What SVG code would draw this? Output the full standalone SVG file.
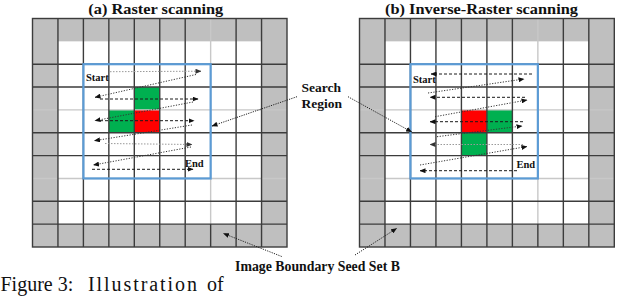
<svg xmlns="http://www.w3.org/2000/svg" width="640" height="297" viewBox="0 0 640 297">
<style>
.bg{fill:#ffffff}
.gray{fill:#bfbfbf}
.white{fill:#ffffff}
.green{fill:#00b050}
.red{fill:#ff0000}
.dk{stroke:#3c3c3c;stroke-width:1.4;fill:none}
.lt{stroke:#c8c8c8;stroke-width:1.4;fill:none}
.blue{stroke:#5b9bd5;stroke-width:2.2;fill:none}
.dash{stroke:#1a1a1a;stroke-width:1;stroke-dasharray:3 2;fill:none}
.dot{stroke:#333;stroke-width:1;stroke-dasharray:1.2 1.5;fill:none}
.faint{stroke:#9a9a9a;stroke-width:1;stroke-dasharray:1.5 1.5;fill:none}
.lead{stroke:#222;stroke-width:1;stroke-dasharray:1.2 1.2;fill:none}
.t{font-family:"Liberation Serif","Times New Roman",serif;font-weight:bold;fill:#111}
.cap{font-family:"Liberation Serif","Times New Roman",serif;fill:#111}
</style>
<defs>
<marker id="ah" viewBox="0 0 6 5" refX="5.5" refY="2.5" markerWidth="6" markerHeight="5" markerUnits="userSpaceOnUse" orient="auto">
<path d="M0,0 L6,2.5 L0,5 z" fill="#111"/>
</marker>
<marker id="ahg" viewBox="0 0 6 5" refX="5.5" refY="2.5" markerWidth="6" markerHeight="5" markerUnits="userSpaceOnUse" orient="auto">
<path d="M0,0 L6,2.5 L0,5 z" fill="#333"/>
</marker>
</defs>
<rect class="bg" x="0" y="0" width="640" height="297"/>

<g id="panel-a">
<rect class="gray" x="32.5" y="18.5" width="254.5" height="228.5"/>
<rect class="white" x="57.95" y="41.35" width="203.6" height="182.8"/>
<rect class="green" x="134.3" y="87.05" width="25.45" height="22.85"/>
<rect class="green" x="108.85" y="109.9" width="25.45" height="22.85"/>
<rect class="red" x="134.3" y="109.9" width="25.45" height="22.85"/>
<path class="lt" d="M32.5,109.9H287M32.5,178.45H287M210.65,18.5V224.15"/>
<path class="dk" d="M57.95,18.5V247M83.4,18.5V247M108.85,18.5V247M134.3,18.5V247M159.75,18.5V247M185.2,18.5V247M236.1,18.5V247M261.55,18.5V247M210.65,224.15V247M32.5,64.2H287M32.5,87.05H287M32.5,132.75H287M32.5,155.6H287M32.5,201.3H287M32.5,224.15H287"/>
<rect class="dk" x="32.5" y="18.5" width="254.5" height="228.5"/>
<rect class="blue" x="83.4" y="64.2" width="127.25" height="114.25"/>
<text class="t" x="86" y="81" font-size="10.5">Start</text>
<text class="t" x="185" y="166.7" font-size="10.5">End</text>
</g>

<g id="panel-b">
<rect class="gray" x="359.5" y="18.5" width="254.8" height="228.5"/>
<rect class="white" x="384.98" y="41.35" width="203.84" height="182.8"/>
<rect class="red" x="461.42" y="109.9" width="25.48" height="22.85"/>
<rect class="green" x="486.9" y="109.9" width="25.48" height="22.85"/>
<rect class="green" x="461.42" y="132.75" width="25.48" height="22.85"/>
<path class="lt" d="M359.5,109.9H614.3M359.5,178.45H614.3M537.86,18.5V224.15"/>
<path class="dk" d="M384.98,18.5V247M410.46,18.5V247M435.94,18.5V247M461.42,18.5V247M486.9,18.5V247M512.38,18.5V247M563.34,18.5V247M588.82,18.5V247M537.86,224.15V247M359.5,64.2H614.3M359.5,87.05H614.3M359.5,132.75H614.3M359.5,155.6H614.3M359.5,201.3H614.3M359.5,224.15H614.3"/>
<rect class="dk" x="359.5" y="18.5" width="254.8" height="228.5"/>
<rect class="blue" x="410.46" y="64.2" width="127.4" height="114.25"/>
<text class="t" x="413" y="83" font-size="10.5">Start</text>
<text class="t" x="516.5" y="168" font-size="10.5">End</text>
</g>

<g id="labels">
<text class="t" x="88.3" y="13.5" font-size="15.5" textLength="135" lengthAdjust="spacingAndGlyphs">(a) Raster scanning</text>
<text class="t" x="385" y="13.5" font-size="15.5" textLength="193" lengthAdjust="spacingAndGlyphs">(b) Inverse-Raster scanning</text>
<text class="t" x="301.5" y="91.7" font-size="13.5">Search</text>
<text class="t" x="301.5" y="108.3" font-size="13.5">Region</text>
<text class="t" x="317.5" y="270.5" font-size="13.8" text-anchor="middle">Image Boundary Seed Set B</text>
<text class="cap" x="0.5" y="291" font-size="20">Figure 3:<tspan x="88" textLength="109" lengthAdjust="spacing">Illustration</tspan><tspan x="207">of</tspan></text>
</g>

<g id="connectors">
<path class="faint" d="M110,71.7 L201,71.2" marker-end="url(#ahg)"/>
<path class="dot" d="M196,74.5 L95,97.3" marker-end="url(#ah)"/>
<path class="dash" d="M100,99 L198,99" marker-end="url(#ah)"/>
<path class="dot" d="M193,102 L95,120.7" marker-end="url(#ah)"/>
<path class="dash" d="M100,120.7 L194,120.7" marker-end="url(#ah)"/>
<path class="dot" d="M192,125 L94.5,140.7" marker-end="url(#ah)"/>
<path class="faint" d="M105,143.5 L192,144.5" marker-end="url(#ahg)"/>
<path class="dot" d="M191,147 L93.5,165" marker-end="url(#ah)"/>
<path class="dash" d="M92,169.3 L193,169.3" marker-end="url(#ah)"/>

<path class="dash" d="M532,74 L431,74" marker-end="url(#ah)"/>
<path class="dot" d="M428,93 L524,79" marker-end="url(#ah)"/>
<path class="dash" d="M525,97.3 L430,97.3" marker-end="url(#ah)"/>
<path class="dot" d="M435,116.7 L527,100" marker-end="url(#ah)"/>
<path class="dash" d="M523,121.7 L430,121.7" marker-end="url(#ah)"/>
<path class="dot" d="M437,136.7 L522,126" marker-end="url(#ah)"/>
<path class="faint" d="M523,144.5 L430,144.5" marker-end="url(#ahg)"/>
<path class="dot" d="M420,165 L527,146.5" marker-end="url(#ah)"/>
<path class="dash" d="M517,170.7 L420,170.7" marker-end="url(#ah)"/>

<path class="lead" d="M297,96.7 L212,126" marker-end="url(#ah)"/>
<path class="lead" d="M348,96.7 L411.5,131.8" marker-end="url(#ah)"/>
<path class="lead" d="M281.7,256.5 L223.5,233.5" marker-end="url(#ah)"/>
<path class="lead" d="M355,255 L396.5,228.5" marker-end="url(#ah)"/>
</g>
</svg>
